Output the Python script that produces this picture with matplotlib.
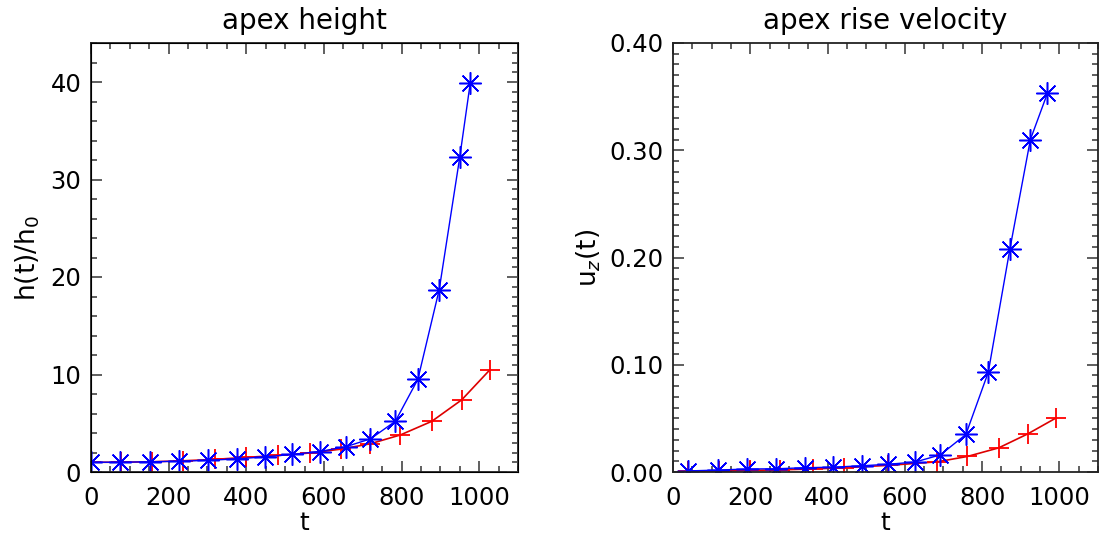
import numpy as np
import matplotlib
matplotlib.use('Agg')
import matplotlib.pyplot as plt
from matplotlib.ticker import MultipleLocator

plt.rcParams['font.family'] = ['DejaVu Sans']
plt.rcParams['font.size'] = 17.5

# apex height, h(t)/h0
t_h_blue = [0, 75, 151, 226, 302, 377, 447, 518, 589, 657, 720, 784, 842, 897, 950, 977]
h_blue = [1.0, 1.0, 1.05, 1.1, 1.2, 1.35, 1.55, 1.8, 2.1, 2.6, 3.4, 5.2, 9.5, 18.7, 32.3, 39.9]
t_h_red = [0, 78, 158, 238, 320, 400, 482, 564, 645, 720, 797, 878, 955, 1028]
h_red = [1.0, 1.0, 1.05, 1.15, 1.3, 1.5, 1.7, 1.95, 2.35, 2.9, 3.8, 5.2, 7.4, 10.5]

# apex rise velocity, u_z(t)
t_u_blue = [39, 116, 192, 267, 342, 415, 488, 557, 627, 692, 758, 816, 872, 925, 969]
u_blue = [0.001, 0.0018, 0.0028, 0.003, 0.004, 0.0045, 0.0058, 0.0072, 0.0093, 0.016,
          0.035, 0.093, 0.208, 0.310, 0.353]
t_u_red = [40, 120, 198, 278, 362, 442, 557, 684, 762, 843, 918, 992]
u_red = [0.0005, 0.001, 0.0015, 0.002, 0.0028, 0.004, 0.0062, 0.0095, 0.0145, 0.0225,
         0.0355, 0.0505]

W, H = 1101, 540
fig = plt.figure(figsize=(W / 100, H / 100), dpi=100)
ax1 = fig.add_axes([91 / W, 1 - 472 / H, (518 - 91) / W, (472 - 43) / H])
ax2 = fig.add_axes([673 / W, 1 - 472 / H, (1098 - 673) / W, (472 - 43) / H])

asterisk = (8, 2, 0)
spine_col = '#222222'


def style(ax):
    for s in ax.spines.values():
        s.set_color(spine_col)
        s.set_linewidth(1.3)
    ax.tick_params(which='both', direction='in', color='#444444', width=1.2)
    ax.tick_params(which='major', length=8)
    ax.tick_params(which='minor', length=4)
    ax.tick_params(axis='x', pad=10)
    ax.tick_params(axis='y', pad=7)
    ax.xaxis.set_major_locator(MultipleLocator(200))
    ax.xaxis.set_minor_locator(MultipleLocator(50))
    ax.set_xlim(0, 1100)
    ax.set_xlabel('t', labelpad=1, fontsize=18)


# left: apex height
ax1.plot(t_h_red, h_red, color='#dd0000', lw=1.2, marker='+', ms=15, mew=1.3, mec='red')
ax1.plot(t_h_blue, h_blue, color='blue', lw=1.0, marker=asterisk, ms=16, mew=1.1)
style(ax1)
ax1.set_ylim(0, 44)
ax1.yaxis.set_major_locator(MultipleLocator(10))
ax1.yaxis.set_minor_locator(MultipleLocator(2))
ax1.tick_params(which='both', top=True, right=False)
ax1.set_ylabel(r'h(t)/h$_0$', labelpad=6, fontsize=19)
ax1.set_title('apex height', fontsize=20, pad=10)
tw = ax1.twinx()
tw.set_ylim(0, 44)
tw.yaxis.set_major_locator(MultipleLocator(10))
tw.yaxis.set_minor_locator(MultipleLocator(1))
tw.tick_params(which='both', direction='in', color='#444444', width=1.2, labelright=False)
tw.tick_params(which='major', length=8)
tw.tick_params(which='minor', length=4)

# right: apex rise velocity
ax2.plot(t_u_red, u_red, color='#dd0000', lw=1.2, marker='+', ms=15, mew=1.3, mec='red')
ax2.plot(t_u_blue, u_blue, color='blue', lw=1.0, marker=asterisk, ms=16, mew=1.1)
style(ax2)
ax2.set_ylim(0, 0.40)
ax2.yaxis.set_major_locator(MultipleLocator(0.1))
ax2.yaxis.set_minor_locator(MultipleLocator(0.01))
ax2.yaxis.set_major_formatter(matplotlib.ticker.FormatStrFormatter('%.2f'))
ax2.tick_params(which='both', top=True, right=True)
ax2.set_ylabel(r'u$_z$(t)', labelpad=4, fontsize=19)
ax2.set_title('apex rise velocity', fontsize=20, pad=10)

fig.savefig('out.png', dpi=100)
